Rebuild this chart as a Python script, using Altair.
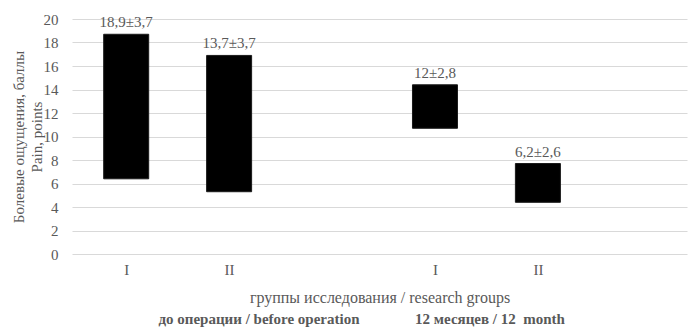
import altair as alt
import pandas as pd

groups = ["I", "II", "I", "II"]
slots = [0, 1, 3, 4]
low = [6.4, 5.3, 10.7, 4.4]
high = [18.7, 16.9, 14.4, 7.7]
labels = ["18,9±3,7", "13,7±3,7", "12±2,8", "6,2±2,6"]
period_labels = ["до операции / before operation", "12 месяцев / 12\u00a0 month"]

df = pd.DataFrame({"slot": slots, "group": groups, "low": low, "high": high, "label": labels})

FONT = "Liberation Serif, Times New Roman, DejaVu Serif, serif"
GRAY = "#595959"

x_axis = alt.Axis(
    values=[0, 1, 3, 4],
    labelExpr="datum.value == 0 || datum.value == 3 ? 'I' : 'II'",
    title="группы исследования / research groups",
    grid=False, domain=False, ticks=False,
    labelPadding=8, titlePadding=12, titleFontSize=16,
)
x_scale = alt.Scale(domain=[-0.478, 5.4], nice=False, zero=False)
y_axis = alt.Axis(
    values=list(range(0, 21, 2)),
    title=["Болевые ощущения, баллы", "Pain, points"],
    domain=False, ticks=False, labelPadding=14, titlePadding=-1,
    titleLineHeight=18,
    gridColor="#d9d9d9", gridWidth=1, labelOverlap=False,
)
y_scale = alt.Scale(domain=[0, 20], nice=False)

bars = alt.Chart(df).mark_bar(size=45, color="#000000", stroke="#1a1a1a", strokeWidth=1).encode(
    x=alt.X("slot:Q", scale=x_scale, axis=x_axis),
    y=alt.Y("low:Q", scale=y_scale, axis=y_axis),
    y2="high:Q",
)
text = alt.Chart(df).mark_text(
    font=FONT, fontSize=15, color=GRAY, dy=-12, baseline="middle"
).encode(
    x=alt.X("slot:Q", scale=x_scale, axis=x_axis),
    y=alt.Y("high:Q", scale=y_scale, axis=y_axis),
    text="label:N",
)

pdf = pd.DataFrame({"t": period_labels, "px": [187, 418]})
periods = alt.Chart(pdf).mark_text(
    font=FONT, fontSize=15, fontWeight="bold", color=GRAY, baseline="middle", align="center"
).encode(x=alt.X("px:Q", scale=None), y=alt.value(300), text="t:N")

chart = alt.layer(bars, text, periods).properties(
    width=615, height=235,
    autosize=alt.AutoSizeParams(type="none"),
    padding={"left": 72, "top": 19, "right": 1, "bottom": 73},
).configure_view(stroke=None).configure_axis(
    labelFont=FONT, titleFont=FONT, labelFontSize=15, titleFontSize=15,
    labelColor=GRAY, titleColor=GRAY, titleFontWeight="normal",
)

chart.save("out.html", embed_options={"renderer": "svg", "actions": False})
